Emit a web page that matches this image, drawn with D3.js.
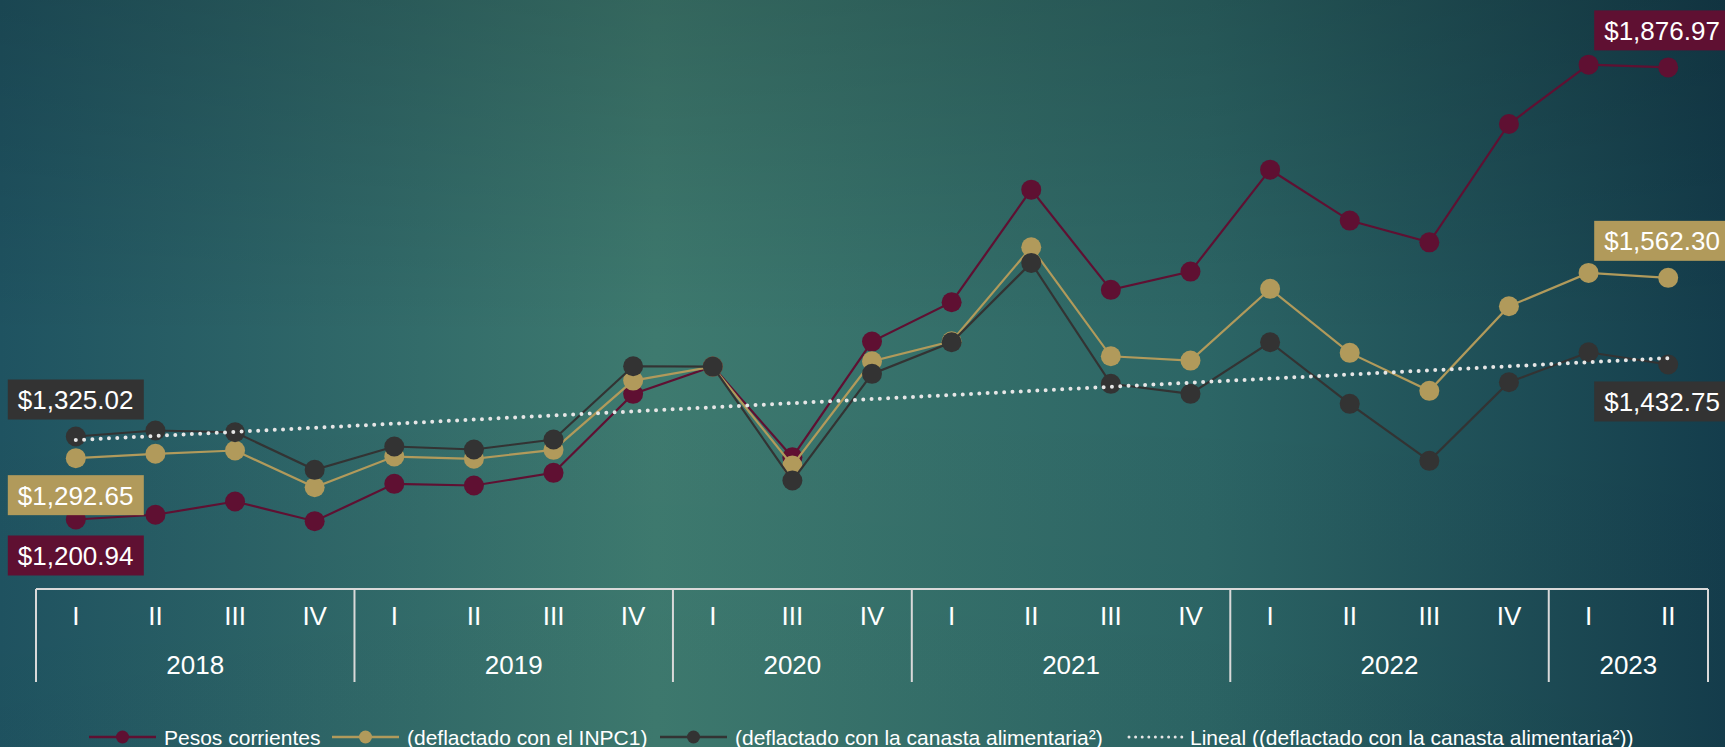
<!DOCTYPE html>
<html>
<head>
<meta charset="utf-8">
<script src="https://cdn.jsdelivr.net/npm/d3@7"></script>
<style>
  body { margin: 0; overflow: hidden; background: #1f5260; }
  svg { display: block; font-family: 'Liberation Sans', Arial, sans-serif; }
</style>
</head>
<body>
<svg id="chart" width="1725" height="747"></svg>
<script>
const quarters = ['I', 'II', 'III', 'IV', 'I', 'II', 'III', 'IV', 'I', 'III', 'IV',
    'I', 'II', 'III', 'IV', 'I', 'II', 'III', 'IV', 'I', 'II'];
const years = ['2018', '2018', '2018', '2018', '2019', '2019', '2019', '2019', '2020', '2020', '2020',
    '2021', '2021', '2021', '2021', '2022', '2022', '2022', '2022', '2023', '2023'];

const pesosCorrientes = [1200.94, 1208.0, 1227.8, 1198.4, 1254.3, 1251.8, 1270.7, 1388.8, 1429.6, 1294.1, 1467.0,
    1525.8, 1694.2, 1544.3, 1571.6, 1724.1, 1647.9, 1615.4, 1792.4, 1881.1, 1876.97];
const deflactadoInpc = [1292.65, 1299.2, 1304.1, 1249.2, 1295.1, 1291.7, 1305.1, 1408.7, 1429.6, 1281.7, 1437.6,
    1467.5, 1608.0, 1445.0, 1438.6, 1545.8, 1450.1, 1393.3, 1519.8, 1569.7, 1562.30];
const deflactadoCanasta = [1325.02, 1334.0, 1331.4, 1275.2, 1310.1, 1305.6, 1320.5, 1430.1, 1429.6, 1259.2, 1418.7,
    1466.0, 1584.6, 1403.8, 1388.8, 1466.0, 1373.9, 1288.7, 1406.2, 1451.0, 1432.75];

const seriesNames = ['Pesos corrientes', '(deflactado con el INPC1)',
    '(deflactado con la canasta alimentaria²)', 'Lineal ((deflactado con la canasta alimentaria²))'];
const seriesColors = ['#5f1032', '#b19a5b', '#333333', '#e6e6e6'];

function makeChart(selector) {
    let chart = {};
    chart.root = d3.select(selector);
    const W = 1725, H = 747;

    // background
    let defs = chart.root.append('defs');
    let bg = defs.append('linearGradient').attr('id', 'bg').attr('x1', 0).attr('x2', 1).attr('y1', 0).attr('y2', 0);
    [['0%', '#1f5361'], ['38%', '#3e7a6f'], ['70%', '#2c6565'], ['100%', '#143d4c']].forEach(s =>
        bg.append('stop').attr('offset', s[0]).attr('stop-color', s[1]));
    let shade = defs.append('linearGradient').attr('id', 'shade').attr('x1', 0).attr('x2', 0).attr('y1', 0).attr('y2', 1);
    [['0%', 0.16], ['45%', 0], ['100%', 0.02]].forEach(s =>
        shade.append('stop').attr('offset', s[0]).attr('stop-color', '#000').attr('stop-opacity', s[1]));
    chart.root.append('rect').attr('width', W).attr('height', H).attr('fill', 'url(#bg)');
    chart.root.append('rect').attr('width', W).attr('height', H).attr('fill', 'url(#shade)');

    let idx = d3.range(quarters.length);
    let x = d3.scaleBand().domain(idx).range([36, 1708]).padding(0);
    let cx = i => x(i) + x.bandwidth() / 2;
    let y = d3.scaleLinear().domain([1100, 1900]).range([587, 52]);

    // category axis box
    let axisTop = 589, axisBottom = 682;
    let axis = chart.root.append('g').attr('class', 'axis');
    axis.append('line')
        .attr('x1', 36).attr('x2', 1708).attr('y1', axisTop).attr('y2', axisTop)
        .attr('stroke', '#d9d9d9').attr('stroke-width', 2);
    let groups = [];
    idx.forEach(i => {
        if (i === 0 || years[i] !== years[i - 1]) groups.push({ year: years[i], start: i, end: i });
        else groups[groups.length - 1].end = i;
    });
    let bounds = groups.map(g => x(g.start)).concat([x(quarters.length - 1) + x.bandwidth()]);
    axis.selectAll('line.sep').data(bounds).enter().append('line')
        .attr('class', 'sep')
        .attr('x1', d => d).attr('x2', d => d)
        .attr('y1', axisTop).attr('y2', axisBottom)
        .attr('stroke', '#d9d9d9').attr('stroke-width', 2);
    axis.selectAll('text.q').data(idx).enter().append('text')
        .attr('class', 'q')
        .attr('x', d => cx(d)).attr('y', 625)
        .attr('text-anchor', 'middle')
        .attr('fill', '#fff').attr('font-size', 26)
        .text(d => quarters[d]);
    axis.selectAll('text.yr').data(groups).enter().append('text')
        .attr('class', 'yr')
        .attr('x', g => (x(g.start) + x(g.end) + x.bandwidth()) / 2).attr('y', 674)
        .attr('text-anchor', 'middle')
        .attr('fill', '#fff').attr('font-size', 26)
        .text(g => g.year);

    // trend (least squares on the canasta series)
    let mx = d3.mean(idx), my = d3.mean(deflactadoCanasta);
    let slope = d3.sum(idx, i => (i - mx) * (deflactadoCanasta[i] - my)) / d3.sum(idx, i => (i - mx) * (i - mx));
    let trend = i => my + slope * (i - mx);

    let line = d3.line().x((d, i) => cx(i)).y(d => y(d));
    let series = [pesosCorrientes, deflactadoInpc, deflactadoCanasta];
    series.forEach((values, s) => {
        let g = chart.root.append('g').attr('class', 'series');
        g.append('path').datum(values)
            .attr('d', line)
            .attr('fill', 'none')
            .attr('stroke', seriesColors[s])
            .attr('stroke-width', 2.2);
        g.selectAll('circle').data(values).enter().append('circle')
            .attr('cx', (d, i) => cx(i)).attr('cy', d => y(d))
            .attr('r', 10)
            .attr('fill', seriesColors[s]);
    });
    let last = quarters.length - 1;
    chart.root.append('line')
        .attr('x1', cx(0)).attr('y1', y(trend(0)))
        .attr('x2', cx(last)).attr('y2', y(trend(last)))
        .attr('stroke', seriesColors[3])
        .attr('stroke-width', 4)
        .attr('stroke-linecap', 'round')
        .attr('stroke-dasharray', '0 8.3');

    // value labels at both ends
    let fmt = d3.format('$,.2f');
    let labels = [
        { s: 0, i: 0, dx: -68, dy: 36 }, { s: 1, i: 0, dx: -68, dy: 37 }, { s: 2, i: 0, dx: -68, dy: -37 },
        { s: 0, i: last, dx: -74, dy: -37 }, { s: 1, i: last, dx: -74, dy: -37 }, { s: 2, i: last, dx: -74, dy: 37 }
    ];
    labels.forEach(l => {
        let v = series[l.s][l.i];
        let bx = cx(l.i) + l.dx, by = y(v) + l.dy;
        let g = chart.root.append('g').attr('class', 'label');
        g.append('rect')
            .attr('x', bx).attr('y', by - 20)
            .attr('width', 136).attr('height', 40)
            .attr('fill', seriesColors[l.s]);
        g.append('text')
            .attr('x', bx + 10).attr('y', by + 9.5)
            .attr('fill', '#fff').attr('font-size', 26)
            .text(fmt(v));
    });

    // legend, items start where the reference puts them
    let legend = chart.root.append('g').attr('class', 'legend');
    let legendX = [89, 332, 660, 1127], ly = 737;
    seriesNames.forEach((name, s) => {
        let lx = legendX[s];
        let symW = s === 3 ? 55 : 67;
        if (s === 3) {
            legend.append('line')
                .attr('x1', lx + 2).attr('x2', lx + symW).attr('y1', ly).attr('y2', ly)
                .attr('stroke', seriesColors[s]).attr('stroke-width', 3)
                .attr('stroke-linecap', 'round').attr('stroke-dasharray', '0 6.6');
        } else {
            legend.append('line')
                .attr('x1', lx).attr('x2', lx + symW).attr('y1', ly).attr('y2', ly)
                .attr('stroke', seriesColors[s]).attr('stroke-width', 2.5);
            legend.append('circle')
                .attr('cx', lx + symW / 2).attr('cy', ly).attr('r', 6.5)
                .attr('fill', seriesColors[s]);
        }
        legend.append('text')
            .attr('x', lx + symW + 8).attr('y', ly + 7.5)
            .attr('fill', '#fff').attr('font-size', 21)
            .text(name);
    });
    return chart;
}

makeChart('#chart');
</script>
</body>
</html>
